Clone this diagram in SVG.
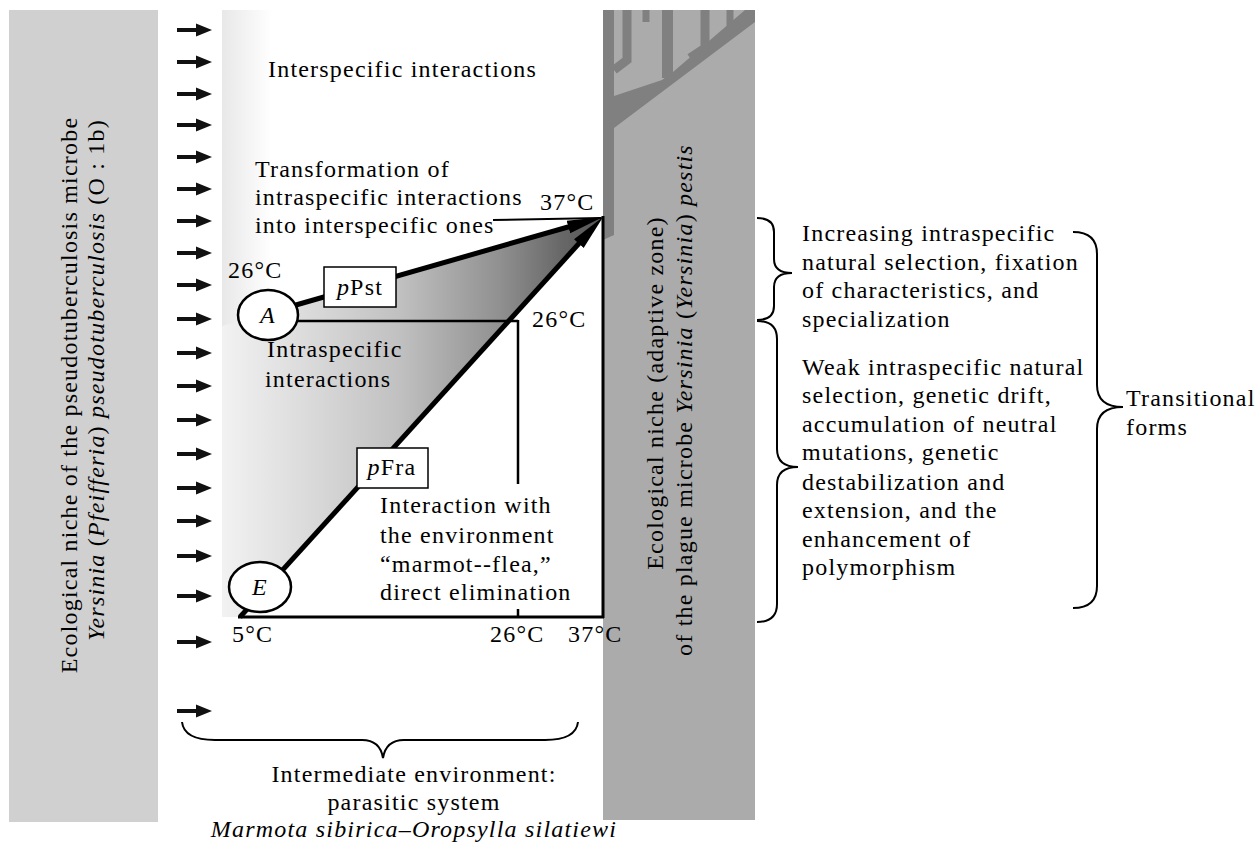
<svg xmlns="http://www.w3.org/2000/svg" width="1259" height="845" viewBox="0 0 1259 845">
<style>
.t{font-family:"Liberation Serif","Times New Roman",serif;font-size:24px;letter-spacing:1.2px;fill:#000}
.i{font-style:italic}
.m{text-anchor:middle}
.ln{stroke:#000;fill:none}
.br{stroke:#000;stroke-width:2;fill:none}
.tree{stroke:#808080;fill:none}
</style>
<defs>
<linearGradient id="shade" gradientUnits="userSpaceOnUse" x1="222" y1="0" x2="603" y2="0">
<stop offset="0" stop-color="#f2f2f2"/>
<stop offset="0.25" stop-color="#d8d8d8"/>
<stop offset="0.47" stop-color="#c0c0c0"/>
<stop offset="0.73" stop-color="#909090"/>
<stop offset="0.89" stop-color="#686868"/>
<stop offset="1" stop-color="#555555"/>
</linearGradient>
<linearGradient id="strip" x1="0" y1="0" x2="1" y2="0">
<stop offset="0" stop-color="#e8e8e8"/>
<stop offset="1" stop-color="#ffffff"/>
</linearGradient>
<marker id="ah" viewBox="0 0 36 16" markerWidth="36" markerHeight="16" refX="16" refY="8" orient="auto" markerUnits="userSpaceOnUse">
<path d="M0,1.5 L36,8 L0,14.5 Z" fill="#000"/>
</marker>
<path id="sa" d="M177,-2 H196 V-6.5 L212,0 L196,6.5 V2 H177 Z" fill="#111"/>
</defs>
<rect width="1259" height="845" fill="#fff"/>

<g id="left-niche">
<rect x="9" y="10" width="149" height="812" fill="#d0d0d0"/>
<text class="t m" transform="translate(77,395) rotate(-90)">Ecological niche of the pseudotuberculosis microbe</text>
<text class="t m" transform="translate(104,380) rotate(-90)"><tspan class="i">Yersinia</tspan> (<tspan class="i">Pfeifferia</tspan>) <tspan class="i">pseudotuberculosis</tspan> (O : 1b)</text>
</g>

<g id="influx-arrows">
<use href="#sa" y="30"/><use href="#sa" y="62"/><use href="#sa" y="94"/><use href="#sa" y="125"/>
<use href="#sa" y="157"/><use href="#sa" y="189"/><use href="#sa" y="221"/><use href="#sa" y="253"/>
<use href="#sa" y="285"/><use href="#sa" y="319"/><use href="#sa" y="353"/><use href="#sa" y="386"/>
<use href="#sa" y="420"/><use href="#sa" y="454"/><use href="#sa" y="488"/><use href="#sa" y="521"/>
<use href="#sa" y="556"/><use href="#sa" y="596"/><use href="#sa" y="642"/><use href="#sa" y="711"/>
</g>

<g id="intermediate-panel">
<rect x="222" y="10" width="50" height="607" fill="url(#strip)"/>
<polygon points="222,326 268,313 603,217 240,617 222,617" fill="url(#shade)"/>
</g>

<g id="right-niche">
<rect x="603" y="10" width="152" height="810" fill="#ababab"/>
<polygon points="603,10 614,10 614,96 662,80 673,72 745,10 755,10 755,22 614,128 614,235 603,240" fill="#808080"/>
<g class="tree">
<polyline points="614,70 627,60 627,10" stroke-width="9"/>
<line x1="646" y1="10" x2="646" y2="22" stroke-width="7"/>
<line x1="667.5" y1="10" x2="667.5" y2="78" stroke-width="11"/>
<polyline points="690,58 705,48 705,10" stroke-width="9"/>
<line x1="730" y1="10" x2="730" y2="32" stroke-width="7"/>
</g>
<text class="t m" transform="translate(663,393) rotate(-90)">Ecological niche (adaptive zone)</text>
<text class="t m" transform="translate(692,400) rotate(-90)">of the plague microbe <tspan class="i">Yersinia</tspan> (<tspan class="i">Yersinia</tspan>) <tspan class="i">pestis</tspan></text>
</g>

<g id="connectors">
<line class="ln" x1="238" y1="617" x2="604" y2="617" stroke-width="3"/>
<line class="ln" x1="603" y1="216" x2="603" y2="618" stroke-width="3"/>
<line class="ln" x1="268" y1="321" x2="518" y2="321" stroke-width="2.5"/>
<line class="ln" x1="518" y1="320" x2="518" y2="484" stroke-width="2.5"/>
<line class="ln" x1="518" y1="609" x2="518" y2="617" stroke-width="2.5"/>
<line class="ln" x1="493" y1="220" x2="601" y2="218" stroke-width="2"/>
<line class="ln" x1="268" y1="313" x2="583.8" y2="222.5" stroke-width="5" marker-end="url(#ah)"/>
<line class="ln" x1="240" y1="617" x2="589.6" y2="231.8" stroke-width="5" marker-end="url(#ah)"/>
</g>

<g id="node-A">
<ellipse cx="268" cy="315" rx="30" ry="25" fill="#fff" stroke="#000" stroke-width="2.5"/>
<text class="t i m" x="268" y="323">A</text>
</g>
<g id="node-E">
<ellipse cx="260" cy="587" rx="31" ry="25" fill="#fff" stroke="#000" stroke-width="2.5"/>
<text class="t i m" x="260" y="595">E</text>
</g>
<g id="box-pPst">
<rect x="324" y="267" width="72" height="40" fill="#fff" stroke="#000" stroke-width="1.5"/>
<text class="t m" x="360" y="295"><tspan class="i">p</tspan>Pst</text>
</g>
<g id="box-pFra">
<rect x="357" y="448" width="71" height="40" fill="#fff" stroke="#000" stroke-width="1.5"/>
<text class="t m" x="392" y="475"><tspan class="i">p</tspan>Fra</text>
</g>

<g id="panel-labels">
<text class="t" x="268" y="77">Interspecific interactions</text>
<text class="t" x="255" y="177">Transformation of</text>
<text class="t" x="255" y="205">intraspecific interactions</text>
<text class="t" x="255" y="233">into interspecific ones</text>
<text class="t" x="540" y="210">37°C</text>
<text class="t" x="228" y="278">26°C</text>
<text class="t" x="532" y="327">26°C</text>
<text class="t" x="267" y="357">Intraspecific</text>
<text class="t" x="265" y="387">interactions</text>
<text class="t" x="380" y="513">Interaction with</text>
<text class="t" x="380" y="543">the environment</text>
<text class="t" x="380" y="572">“marmot--flea,”</text>
<text class="t" x="380" y="600">direct elimination</text>
<text class="t" x="232" y="642">5°C</text>
<text class="t" x="490" y="642">26°C</text>
<text class="t" x="568" y="642">37°C</text>
</g>

<g id="intermediate-env">
<path class="br" d="M182,722 Q184,740 215,740 L362,740 Q380,740 383,758 Q386,740 404,740 L545,740 Q576,740 578,722"/>
<text class="t m" x="414" y="782">Intermediate environment:</text>
<text class="t m" x="414" y="810">parasitic system</text>
<text class="t i m" x="414" y="837">Marmota sibirica–Oropsylla silatiewi</text>
</g>

<g id="selection-strong">
<path class="br" d="M757,218 Q774,218 774,232 L774,259 Q774,273 792,273 Q774,273 774,287 L774,306 Q774,320 757,320"/>
<text class="t" x="802" y="241">Increasing intraspecific</text>
<text class="t" x="802" y="270">natural selection, fixation</text>
<text class="t" x="802" y="298">of characteristics, and</text>
<text class="t" x="802" y="327">specialization</text>
</g>

<g id="selection-weak">
<path class="br" d="M757,321 Q777,321 777,339 L777,449 Q777,467 798,467 Q777,467 777,485 L777,604 Q777,622 757,622"/>
<text class="t" x="802" y="375">Weak intraspecific natural</text>
<text class="t" x="802" y="403">selection, genetic drift,</text>
<text class="t" x="802" y="432">accumulation of neutral</text>
<text class="t" x="802" y="460">mutations, genetic</text>
<text class="t" x="802" y="490">destabilization and</text>
<text class="t" x="802" y="518">extension, and the</text>
<text class="t" x="802" y="547">enhancement of</text>
<text class="t" x="802" y="575">polymorphism</text>
</g>

<g id="transitional-forms">
<path class="br" d="M1073,232 Q1097,232 1097,254 L1097,385 Q1097,407 1123,407 Q1097,407 1097,429 L1097,586 Q1097,608 1073,608"/>
<text class="t" x="1126" y="406">Transitional</text>
<text class="t" x="1126" y="435">forms</text>
</g>
</svg>
